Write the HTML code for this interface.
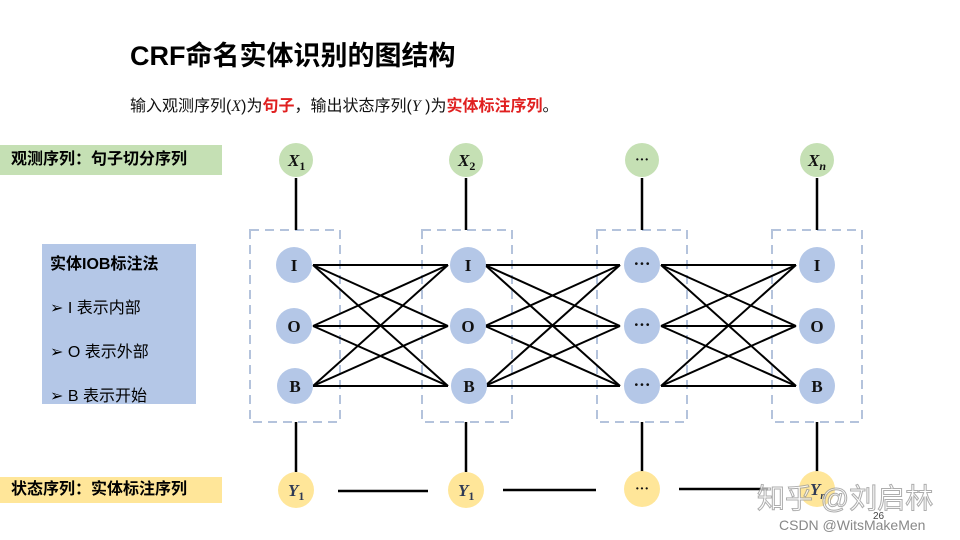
<!DOCTYPE html>
<html><head><meta charset="utf-8"><style>
body{margin:0;width:960px;height:540px;background:#fff;overflow:hidden;position:relative;font-family:"Liberation Sans","Noto Sans CJK SC",sans-serif}
.abs{position:absolute;white-space:nowrap}
</style></head><body>
<div class="abs" style="left:130px;top:34px;font-size:27px;font-weight:bold;color:#000">CRF命名实体识别的图结构</div>
<div class="abs" style="left:130px;top:92px;font-size:16px;color:#111">输入观测序列(<i style="font-family:'Liberation Serif',serif">X</i>)为<b style="color:#e02020">句子</b>，输出状态序列(<i style="font-family:'Liberation Serif',serif">Y</i> )为<b style="color:#e02020">实体标注序列</b>。</div>
<div class="abs" style="left:0;top:145px;width:222px;height:30px;background:#c5e0b4;font-size:16px;font-weight:bold;line-height:30px;padding-left:11px;box-sizing:border-box">观测序列：句子切分序列</div>
<div class="abs" style="left:42px;top:244px;width:154px;height:160px;background:#b4c7e7;font-size:16px;padding-left:8px;box-sizing:border-box">
<div style="font-weight:bold;margin-top:6px">实体IOB标注法</div>
<div style="margin-top:20px">➢ I 表示内部</div>
<div style="margin-top:20px">➢ O 表示外部</div>
<div style="margin-top:20px">➢ B 表示开始</div></div>
<div class="abs" style="left:0;top:477px;width:222px;height:26px;background:#ffe699;font-size:16px;font-weight:bold;line-height:26px;padding-left:11px;box-sizing:border-box">状态序列：实体标注序列</div>
<svg width="960" height="540" style="position:absolute;left:0;top:0" font-family="Liberation Serif,serif">
<g fill="none" stroke="#b4c3dc" stroke-width="2" stroke-dasharray="9,6">
<rect x="250" y="230" width="90" height="192"/><rect x="422" y="230" width="90" height="192"/>
<rect x="597" y="230" width="90" height="192"/><rect x="772" y="230" width="90" height="192"/>
</g>
<g stroke="#000" stroke-width="2.5">
<line x1="296" y1="178" x2="296" y2="230"/><line x1="466" y1="178" x2="466" y2="230"/><line x1="642" y1="178" x2="642" y2="230"/><line x1="817" y1="178" x2="817" y2="230"/>
<line x1="296" y1="422" x2="296" y2="472"/><line x1="466" y1="422" x2="466" y2="472"/><line x1="642" y1="422" x2="642" y2="472"/><line x1="817" y1="422" x2="817" y2="472"/>
<line x1="338" y1="491" x2="428" y2="491"/><line x1="503" y1="490" x2="596" y2="490"/><line x1="679" y1="489" x2="768" y2="489"/>
</g>
<g stroke="#000" stroke-width="2" id="e">
<line x1="313" y1="265" x2="448" y2="265"/><line x1="313" y1="265" x2="448" y2="326"/><line x1="313" y1="265" x2="448" y2="386"/>
<line x1="313" y1="326" x2="448" y2="265"/><line x1="313" y1="326" x2="448" y2="326"/><line x1="313" y1="326" x2="448" y2="386"/>
<line x1="313" y1="386" x2="448" y2="265"/><line x1="313" y1="386" x2="448" y2="326"/><line x1="313" y1="386" x2="448" y2="386"/>
</g>
<use href="#e" x="172"/><use href="#e" x="348"/>
<g fill="#c5e0b4"><circle cx="296" cy="160" r="17"/><circle cx="466" cy="160" r="17"/><circle cx="642" cy="160" r="17"/><circle cx="817" cy="160" r="17"/></g>
<g fill="#b4c7e7">
<circle cx="294" cy="265" r="18"/><circle cx="294" cy="326" r="18"/><circle cx="295" cy="386" r="18"/>
<circle cx="468" cy="265" r="18"/><circle cx="468" cy="326" r="18"/><circle cx="469" cy="386" r="18"/>
<circle cx="642" cy="265" r="18"/><circle cx="642" cy="326" r="18"/><circle cx="642" cy="386" r="18"/>
<circle cx="817" cy="265" r="18"/><circle cx="817" cy="326" r="18"/><circle cx="817" cy="386" r="18"/>
</g>
<g fill="#ffe699"><circle cx="296" cy="490" r="18"/><circle cx="466" cy="490" r="18"/><circle cx="642" cy="489" r="18"/><circle cx="817" cy="489" r="18"/></g>
<g font-weight="bold" font-size="17" text-anchor="middle" fill="#111">
<text x="294" y="271">I</text><text x="294" y="332">O</text><text x="295" y="392">B</text>
<text x="468" y="271">I</text><text x="468" y="332">O</text><text x="469" y="392">B</text>
<text x="642" y="269">···</text><text x="642" y="330">···</text><text x="642" y="390">···</text>
<text x="817" y="271">I</text><text x="817" y="332">O</text><text x="817" y="392">B</text>
<text x="642" y="164" font-size="14">···</text><text x="642" y="493" font-size="14">···</text>
</g>
<g font-weight="bold" font-style="italic" font-size="17" fill="#111">
<text x="288" y="166">X<tspan font-size="12" dy="4" font-style="normal">1</tspan></text>
<text x="458" y="166">X<tspan font-size="12" dy="4" font-style="normal">2</tspan></text>
<text x="808" y="166">X<tspan font-size="12" dy="4">n</tspan></text>
<text x="288" y="496" fill="#2f3a55">Y<tspan font-size="12" dy="4" font-style="normal">1</tspan></text>
<text x="458" y="496" fill="#2f3a55">Y<tspan font-size="12" dy="4" font-style="normal">1</tspan></text>
<text x="810" y="495" fill="#2f3a55">Y<tspan font-size="10" dy="4">n</tspan></text>
</g>
<text x="757" y="508" font-size="28" fill="#fff" stroke="#999" stroke-width="1" font-family="Liberation Sans,Noto Sans CJK SC,sans-serif" opacity="0.8">知乎 @刘启林</text>
<text x="873" y="519" font-size="10" fill="#444" font-family="Liberation Sans,sans-serif">26</text>
<text x="779" y="530" font-size="14" fill="#888" font-family="Liberation Sans,sans-serif">CSDN @WitsMakeMen</text>
</svg>
</body></html>
